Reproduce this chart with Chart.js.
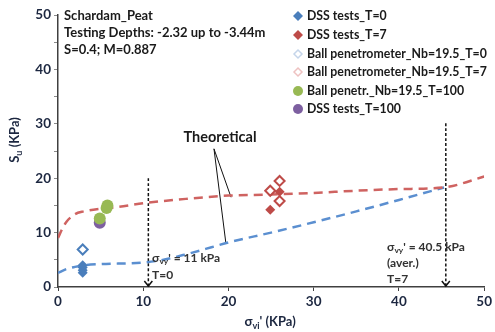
<!DOCTYPE html>
<html>
<head>
<meta charset="utf-8">
<script src="https://cdn.jsdelivr.net/npm/chart.js@4.4.1/dist/chart.umd.min.js"></script>
<style>
  html, body { margin: 0; padding: 0; background: #fff; }
  #wrap { width: 495px; height: 332px; }
</style>
</head>
<body>
<div id="wrap"><canvas id="suChart" width="495" height="332"></canvas></div>
<script>
// measured points (sigma_vi' in kPa, Su in kPa)
const dssT0 = [[2.9, 2.6], [2.9, 3.1], [2.9, 3.6], [2.9, 4.0]];
const dssT7 = [[24.9, 14.2], [26.0, 17.5]];
const ballT0 = [[2.9, 6.9]];
const ballT7 = [[24.9, 17.7], [26.0, 19.5], [26.0, 15.8]];
const ballT100 = [[5.8, 15.0], [5.7, 14.5], [4.9, 12.6]];
const dssT100 = [[4.9, 11.8]];

// theoretical curves
const theoryT7 = [[0, 9.0], [0.5, 10.7], [1, 12.0], [2, 13.4], [3, 13.9], [5, 14.4], [7, 14.7], [10, 15.4],
  [15, 16.2], [20, 16.8], [25, 17.0], [30, 17.3], [35, 17.7], [40, 18.0], [45.3, 18.3], [50, 20.3]];
const theoryT0 = [[0, 2.6], [1, 3.3], [2, 3.7], [3, 4.0], [5, 4.2], [10, 4.5], [12, 4.9], [15, 6.0],
  [18, 7.3], [20, 8.2], [25, 10.0], [30, 11.9], [35, 13.9], [40, 16.0], [45.3, 18.3]];

// yield stress arrows and "Theoretical" pointer lines
const arrowT0 = [[10.6, 20], [10.6, 0]];
const arrowT7 = [[45.5, 30.1], [45.5, 0]];
const pointerRed = [[18.3, 25.4], [20.3, 16.5]];
const pointerBlue = [[18.3, 25.4], [19.7, 8.0]];

const xTicks = [0, 10, 20, 30, 40, 50];
const yTicks = [0, 10, 20, 30, 40, 50];

const legendNames = ['DSS tests_T=0', 'DSS tests_T=7', 'Ball penetrometer_Nb=19.5_T=0',
  'Ball penetrometer_Nb=19.5_T=7', 'Ball penetr._Nb=19.5_T=100', 'DSS tests_T=100'];
const infoLines = ['Schardam_Peat', 'Testing Depths: -2.32 up to -3.44m', 'S=0.4; M=0.887'];

const BLUE = '#4a7ebb', RED = '#be4b48', GREEN = '#98b954', PURPLE = '#7d5fa0';
const TXT = '#1c2740';
const FONT = 'Lato, "Liberation Sans", sans-serif';

const pts = arr => arr.map(p => ({ x: p[0], y: p[1] }));

function markerSet(label, data, style, fill, stroke, r, bw) {
  return { label, data: pts(data), pointStyle: style, pointRadius: r, pointHoverRadius: r,
    backgroundColor: fill, borderColor: stroke, pointBorderWidth: bw, showLine: false };
}
function lineSet(label, data, color, width, dash) {
  return { label, data: pts(data), showLine: true, borderColor: color, borderWidth: width,
    borderDash: dash, pointRadius: 0, fill: false, tension: 0.4, cubicInterpolationMode: 'monotone' };
}

// text with a subscript part: [[text, isSub], ...]
function richText(ctx, parts, x, y, size) {
  let cx = x;
  parts.forEach(([t, sub]) => {
    ctx.font = 'bold ' + (sub ? size * 0.7 : size) + 'px ' + FONT;
    ctx.fillText(t, cx, sub ? y + size * 0.3 : y);
    cx += ctx.measureText(t).width;
  });
  return cx - x;
}

function drawMarker(ctx, style, x, y, r, fill, stroke, bw) {
  ctx.save();
  ctx.beginPath();
  if (style === 'circle') ctx.arc(x, y, r, 0, Math.PI * 2);
  else { ctx.moveTo(x, y - r); ctx.lineTo(x + r, y); ctx.lineTo(x, y + r); ctx.lineTo(x - r, y); ctx.closePath(); }
  ctx.fillStyle = fill; ctx.fill();
  if (bw) { ctx.lineWidth = bw; ctx.strokeStyle = stroke; ctx.stroke(); }
  ctx.restore();
}

const overlay = {
  id: 'overlay',
  afterDatasetsDraw(chart) {
    const ctx = chart.ctx;
    const xs = chart.scales.x, ys = chart.scales.y;
    ctx.save();

    // arrow heads
    ctx.strokeStyle = '#111'; ctx.lineWidth = 1.5;
    [arrowT0, arrowT7].forEach(a => {
      const px = xs.getPixelForValue(a[1][0]), py = ys.getPixelForValue(a[1][1]);
      ctx.beginPath();
      ctx.moveTo(px - 4, py - 6); ctx.lineTo(px, py - 1); ctx.lineTo(px + 4, py - 6);
      ctx.stroke();
    });

    // info block
    ctx.fillStyle = '#1a1a1a';
    ctx.textBaseline = 'middle'; ctx.textAlign = 'left';
    ctx.font = 'bold 13px ' + FONT;
    infoLines.forEach((t, i) => ctx.fillText(t, 64, 16 + i * 17));

    // legend
    const lx = 298, ly = [16, 35, 54, 72, 91, 109];
    drawMarker(ctx, 'diamond', lx, ly[0], 5, BLUE);
    drawMarker(ctx, 'diamond', lx, ly[1], 5, RED);
    drawMarker(ctx, 'diamond', lx, ly[2], 4, '#fff', '#c5d5ea', 1.5);
    drawMarker(ctx, 'diamond', lx, ly[3], 4, '#fff', '#eec2c1', 1.5);
    drawMarker(ctx, 'circle', lx, ly[4], 5, GREEN);
    drawMarker(ctx, 'circle', lx, ly[5], 5, PURPLE);
    ctx.fillStyle = '#1a1a1a';
    ctx.font = 'bold 12.3px ' + FONT;
    legendNames.forEach((t, i) => ctx.fillText(t, lx + 9, ly[i]));

    // annotations
    ctx.fillStyle = '#333';
    richText(ctx, [['σ', false], ['vy', true], ["' = 11 kPa", false]], 152, 258, 12);
    richText(ctx, [['T=0', false]], 152, 275, 12);
    richText(ctx, [['σ', false], ['vy', true], ["' = 40.5 kPa", false]], 387, 247, 12);
    richText(ctx, [['(aver.)', false]], 387, 263, 12);
    richText(ctx, [['T=7', false]], 387, 279, 12);

    ctx.fillStyle = '#1a1a1a';
    ctx.textAlign = 'center';
    ctx.font = 'bold 14.5px ' + FONT;
    ctx.fillText('Theoretical', 220, 137);

    // axis titles
    ctx.fillStyle = TXT;
    ctx.textAlign = 'left';
    ctx.font = 'bold 13px ' + FONT;
    const xw = ctx.measureText("σ' (KPa)").width + 9;
    richText(ctx, [['σ', false], ['vi', true], ["' (KPa)", false]], 271 - xw / 2, 322, 13);
    ctx.font = 'bold 13px ' + FONT;
    ctx.translate(15, 140);
    ctx.rotate(-Math.PI / 2);
    const yw = ctx.measureText('S (KPa)').width + 5;
    richText(ctx, [['S', false], ['u', true], [' (KPa)', false]], -yw / 2, 0, 13);
    ctx.restore();
  }
};

new Chart(document.getElementById('suChart'), {
  type: 'scatter',
  data: {
    datasets: [
      markerSet(legendNames[0], dssT0, 'rectRot', BLUE, BLUE, 5, 0),
      markerSet(legendNames[1], dssT7, 'rectRot', RED, RED, 5, 0),
      markerSet(legendNames[2], ballT0, 'rectRot', '#fff', BLUE, 5, 2),
      markerSet(legendNames[3], ballT7, 'rectRot', '#fff', RED, 5, 2),
      markerSet(legendNames[4], ballT100, 'circle', GREEN, GREEN, 6, 0),
      markerSet(legendNames[5], dssT100, 'circle', PURPLE, PURPLE, 6, 0),
      lineSet('Theoretical T=7', theoryT7, '#cf6361', 2.5, [9, 6]),
      lineSet('Theoretical T=0', theoryT0, '#5b8fd0', 2.5, [9, 6]),
      lineSet('arrow T=0', arrowT0, '#111', 1.5, [3, 2]),
      lineSet('arrow T=7', arrowT7, '#111', 1.5, [3, 2]),
      lineSet('pointer red', pointerRed, '#111', 1, []),
      lineSet('pointer blue', pointerBlue, '#111', 1, [])
    ]
  },
  options: {
    responsive: false,
    animation: false,
    layout: { padding: { top: 15, right: 8, left: 0, bottom: 0 } },
    plugins: { legend: { display: false }, tooltip: { enabled: false } },
    scales: {
      x: {
        type: 'linear', min: 0, max: 50,
        afterBuildTicks: s => { s.ticks = xTicks.map(v => ({ value: v })); },
        afterFit: s => { s.height = 45; },
        grid: { drawOnChartArea: false, drawTicks: true, tickLength: 4, color: '#404040' },
        border: { color: '#404040', width: 1.5 },
        ticks: { color: TXT, padding: 3, font: { family: FONT, size: 13.5, weight: 'bold' } }
      },
      y: {
        type: 'linear', min: 0, max: 50,
        afterBuildTicks: s => {
          const t = [];
          for (let v = 0; v <= 50; v += 5) t.push({ value: v });
          s.ticks = t;
        },
        afterFit: s => { s.width = 58; },
        grid: { drawOnChartArea: false, drawTicks: true, tickLength: 4, color: '#8a8a8a' },
        border: { color: '#404040', width: 1.5 },
        ticks: {
          color: TXT, padding: 3, font: { family: FONT, size: 13.5, weight: 'bold' },
          callback: v => (yTicks.includes(v) ? v : '')
        }
      }
    }
  },
  plugins: [overlay]
});
</script>
</body>
</html>
